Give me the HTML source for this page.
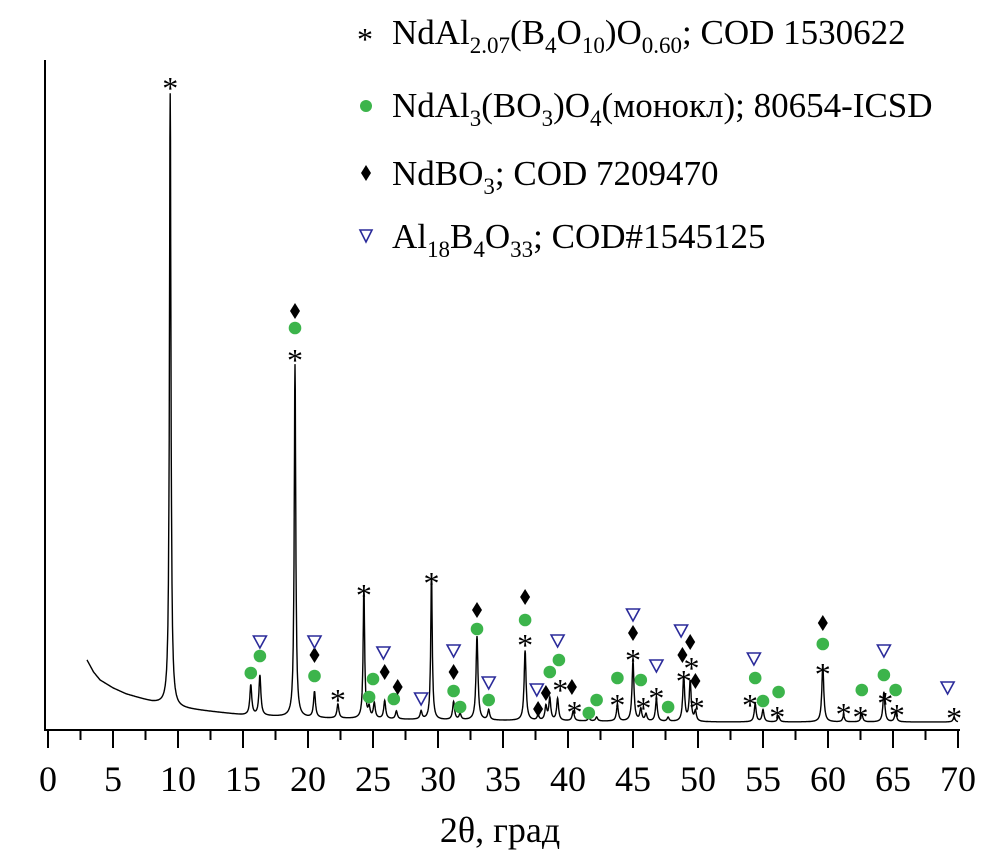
<!DOCTYPE html>
<html><head><meta charset="utf-8"><style>
html,body{margin:0;padding:0;background:#fff}
svg{display:block}
text{font-family:"Liberation Serif","DejaVu Serif",serif;fill:#000}
</style></head><body>
<svg id="chart" width="1004" height="866" viewBox="0 0 1004 866">
<g id="legend">
 <g>
  <text x="357" y="50" font-size="32">*</text>
  <text x="392" y="44" font-size="35">NdAl<tspan font-size="23" dy="9">2.07</tspan><tspan dy="-9">(B</tspan><tspan font-size="23" dy="9">4</tspan><tspan dy="-9">O</tspan><tspan font-size="23" dy="9">10</tspan><tspan dy="-9">)O</tspan><tspan font-size="23" dy="9">0.60</tspan><tspan dy="-9">; COD 1530622</tspan></text>
 </g>
 <g>
  <circle cx="366" cy="106" r="6" fill="#3cb44b"/>
  <text x="392" y="117" font-size="35">NdAl<tspan font-size="23" dy="9">3</tspan><tspan dy="-9">(BO</tspan><tspan font-size="23" dy="9">3</tspan><tspan dy="-9">)O</tspan><tspan font-size="23" dy="9">4</tspan><tspan dy="-9">(монокл); 80654-ICSD</tspan></text>
 </g>
 <g>
  <path d="M366 165 L371 173 L366 181 L361 173 Z" fill="#000"/>
  <text x="392" y="185" font-size="35">NdBO<tspan font-size="23" dy="9">3</tspan><tspan dy="-9">; COD 7209470</tspan></text>
 </g>
 <g>
  <path d="M360 230 L372 230 L366 242 Z" fill="none" stroke="#2b2b9a" stroke-width="1.6"/>
  <text x="392" y="248" font-size="35">Al<tspan font-size="23" dy="9">18</tspan><tspan dy="-9">B</tspan><tspan font-size="23" dy="9">4</tspan><tspan dy="-9">O</tspan><tspan font-size="23" dy="9">33</tspan><tspan dy="-9">; COD#1545125</tspan></text>
 </g>
</g>
<g id="axes"></g>
<path id="pattern" fill="none" stroke="#000" stroke-width="1.4"/>
<g id="markers"></g>
<text x="500" y="842" font-size="36" text-anchor="middle">2θ, град</text>
</svg>
<script>
const xTicks=[0,5,10,15,20,25,30,35,40,45,50,55,60,65,70];
const bgX=[3,3.5,4,5,6,8,10,15,20,30,40,50,60,70];
const bgY=[70,58,50,42,36,28,22,15,12,10,9,8,8,8];
const peakPos=[9.4,15.6,16.3,19.0,20.5,22.3,24.3,24.7,25.1,25.9,26.8,28.7,29.5,31.2,31.7,33.0,33.9,36.7,37.7,38.3,38.6,39.2,40.4,41.6,42.2,43.8,45.0,45.6,46.0,46.8,47.7,48.9,49.4,49.8,54.4,55.0,56.2,59.6,61.2,62.6,64.3,65.2,69.7];
const peakInt=[613,30,40,353,26,14,130,10,15,18,8,8,145,18,6,84,10,70,5,14,22,22,10,3,4,16,60,12,7,22,4,45,40,10,18,12,6,57,6,8,30,10,5];
const starX=[9.4,19.0,22.3,24.3,29.5,36.7,39.4,40.5,43.8,45.0,45.8,46.8,48.9,49.5,49.9,54.0,56.1,59.6,61.2,62.5,64.4,65.3,69.7];
const starY=[650,378,38,143,155,93,48,26,33,78,30,40,57,70,30,33,21,64,24,21,35,23,20];
const circX=[15.6,16.3,19.0,20.5,24.7,25.0,26.6,31.2,31.7,33.0,33.9,36.7,38.6,39.3,41.6,42.2,43.8,45.6,47.7,54.4,55.0,56.2,59.6,62.6,64.3,65.2];
const circY=[57,74,402,54,33,51,31,39,23,101,30,110,58,70,17,30,52,50,23,52,29,38,86,40,55,40];
const diaX=[19.0,20.5,25.9,26.9,31.2,33.0,36.7,37.7,38.3,40.3,45.0,48.8,49.4,49.8,59.6];
const diaY=[419,75,58,43,58,120,133,21,37,43,97,75,88,49,107];
const triX=[16.3,20.5,25.8,28.7,31.2,33.9,37.6,39.2,45.0,46.8,48.7,54.3,64.3,69.2];
const triY=[88,88,77,31,79,47,40,89,115,64,99,71,79,42];
const X0=48,XS=13,Y0=730;
const sx=v=>X0+v*XS, sy=v=>Y0-v;
const NS="http://www.w3.org/2000/svg";
function bg(x){for(let i=0;i<bgX.length-1;i++){if(x<=bgX[i+1]){const t=(x-bgX[i])/(bgX[i+1]-bgX[i]);return bgY[i]+t*(bgY[i+1]-bgY[i]);}}return bgY[bgY.length-1];}
let d="";
for(let x=3;x<=70.001;x+=0.02){let v=bg(x);for(let i=0;i<peakPos.length;i++){const w=peakInt[i]>100?0.07:0.09;const u=(x-peakPos[i])/w;v+=peakInt[i]/(1+u*u);}d+=(d?"L":"M")+sx(x).toFixed(1)+" "+sy(v).toFixed(1);}
document.getElementById('pattern').setAttribute('d',d);
const ax=document.getElementById('axes');
function el(tag,attrs,parent){const e=document.createElementNS(NS,tag);for(const k in attrs)e.setAttribute(k,attrs[k]);parent.appendChild(e);return e;}
const yl=el('line',{x1:45,y1:60,x2:45,y2:731,stroke:'#000','stroke-width':2},ax);


const xl=el('line',{x1:44,y1:730,x2:960,y2:730,stroke:'#000','stroke-width':2},ax);


xTicks.forEach((t,i)=>{const x=sx(t);const tk=el('line',{x1:x,y1:730,x2:x,y2:748,stroke:'#000','stroke-width':2},ax);


if(i<xTicks.length-1){const m=el('line',{x1:sx(t+2.5),y1:730,x2:sx(t+2.5),y2:740,stroke:'#000','stroke-width':2},ax);

}
const lb=el('text',{x:x,y:791,'font-size':36,'text-anchor':'middle'},ax);lb.textContent=String(t);

});
const mk=document.getElementById('markers');
starX.forEach((x,i)=>{const t=el('text',{x:sx(x),y:sy(starY[i])+19,'font-size':32,'text-anchor':'middle'},mk);t.textContent='*';

});
circX.forEach((x,i)=>{const c=el('circle',{cx:sx(x),cy:sy(circY[i]),r:6.3,fill:'#3cb44b'},mk);

});
diaX.forEach((x,i)=>{const X=sx(x),Y=sy(diaY[i]);const p=el('path',{d:`M${X} ${Y-8}L${X+5} ${Y}L${X} ${Y+8}L${X-5} ${Y}Z`,fill:'#000'},mk);

});
triX.forEach((x,i)=>{const X=sx(x),Y=sy(triY[i]);const p=el('path',{d:`M${X-6.5} ${Y-6}L${X+6.5} ${Y-6}L${X} ${Y+6}Z`,fill:'none',stroke:'#2b2b9a','stroke-width':1.6},mk);

});
</script>
</body></html>
